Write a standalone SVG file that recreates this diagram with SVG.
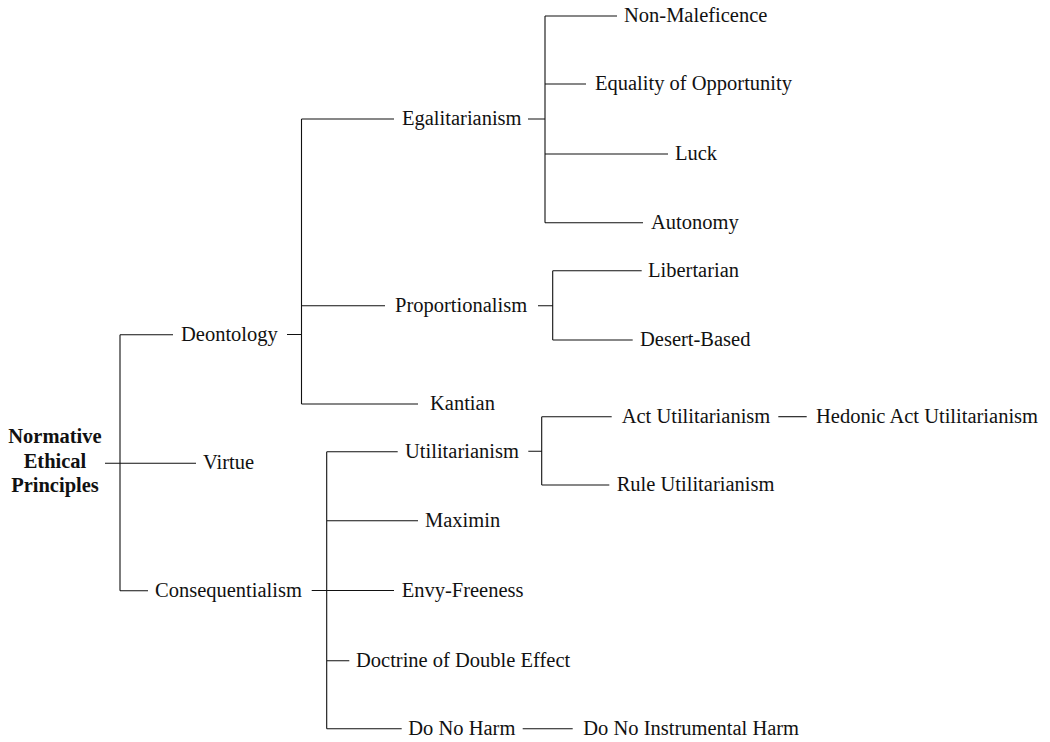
<svg xmlns="http://www.w3.org/2000/svg" width="1050" height="742" viewBox="0 0 1050 742">
<style>
text { font-family: "Liberation Serif", "Times New Roman", serif; font-size: 20.5px; fill: #111; }
.root { font-weight: bold; text-anchor: middle; }
#connectors path { fill: none; stroke: #111; stroke-width: 1.1; }
</style>
<rect width="1050" height="742" fill="#fff"/>
<g id="connectors">
  <!-- root -->
  <path d="M105,463.3 H120 M120,334.7 V590.7 M120,334.7 H173 M120,463.3 H196 M120,590.7 H148"/>
  <!-- Deontology -->
  <path d="M287,334.5 H301.5 M301.5,119 V404 M301.5,119 H394 M301.5,305.7 H385 M301.5,404 H418"/>
  <!-- Egalitarianism -->
  <path d="M528,119 H545 M545,16 V222.7 M545,16 H617 M545,84 H586 M545,154 H668 M545,222.7 H643"/>
  <!-- Proportionalism -->
  <path d="M538,305.7 H552.7 M552.7,270.7 V340 M552.7,270.7 H641.7 M552.7,340 H632.7"/>
  <!-- Consequentialism -->
  <path d="M311.7,590.5 H326.7 M326.7,451.7 V728.7 M326.7,451.7 H397.7 M326.7,520.7 H418 M326.7,590.5 H394 M326.7,660.7 H349.3 M326.7,728.7 H401.7"/>
  <!-- Utilitarianism -->
  <path d="M528.3,451.3 H541.7 M541.7,416.7 V485 M541.7,416.7 H611.7 M541.7,485 H609.3"/>
  <!-- Act Utilitarianism -->
  <path d="M778.3,416.7 H806.7"/>
  <!-- Do No Harm -->
  <path d="M522.7,728.7 H572.7"/>
</g>
<g id="node-root"><text class="root" x="55" y="443">Normative</text><text class="root" x="55" y="468">Ethical</text><text class="root" x="55" y="492">Principles</text></g>
<g id="node-deontology"><text x="181" y="340.7">Deontology</text></g>
<g id="node-virtue"><text x="203" y="469.3">Virtue</text></g>
<g id="node-consequentialism"><text x="155" y="596.7">Consequentialism</text></g>
<g id="node-egalitarianism"><text x="402" y="125">Egalitarianism</text></g>
<g id="node-proportionalism"><text x="395" y="311.7">Proportionalism</text></g>
<g id="node-kantian"><text x="430" y="410">Kantian</text></g>
<g id="node-nonmaleficence"><text x="624" y="22">Non-Maleficence</text></g>
<g id="node-equality"><text x="595" y="90">Equality of Opportunity</text></g>
<g id="node-luck"><text x="675" y="160">Luck</text></g>
<g id="node-autonomy"><text x="651" y="228.7">Autonomy</text></g>
<g id="node-libertarian"><text x="648" y="276.7">Libertarian</text></g>
<g id="node-desert"><text x="640" y="346">Desert-Based</text></g>
<g id="node-utilitarianism"><text x="405" y="457.7">Utilitarianism</text></g>
<g id="node-act"><text x="621.7" y="422.7">Act Utilitarianism</text></g>
<g id="node-hedonic"><text x="816" y="422.7">Hedonic Act Utilitarianism</text></g>
<g id="node-rule"><text x="616.7" y="491">Rule Utilitarianism</text></g>
<g id="node-maximin"><text x="425" y="526.7">Maximin</text></g>
<g id="node-envy"><text x="401.7" y="596.5">Envy-Freeness</text></g>
<g id="node-doctrine"><text x="356" y="666.7">Doctrine of Double Effect</text></g>
<g id="node-donoharm"><text x="408.3" y="734.7">Do No Harm</text></g>
<g id="node-instrumental"><text x="583.3" y="734.7">Do No Instrumental Harm</text></g>
</svg>
